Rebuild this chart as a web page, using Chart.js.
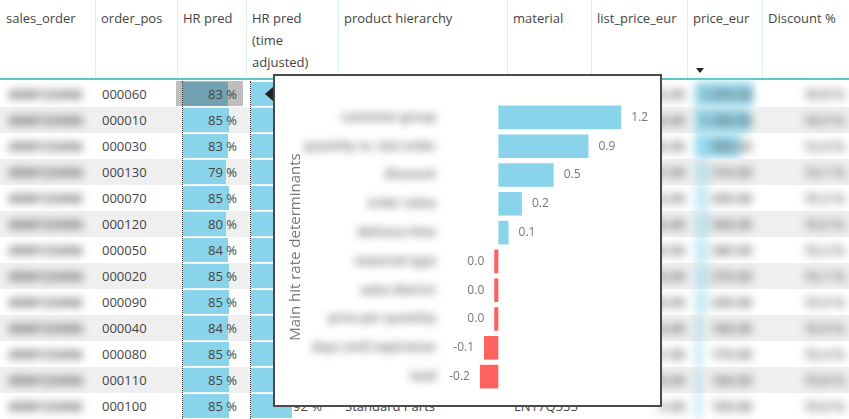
<!DOCTYPE html>
<html>
<head>
<meta charset="utf-8">
<script src="https://cdn.jsdelivr.net/npm/chart.js@4.4.1/dist/chart.umd.min.js"></script>
<style>
  body { margin: 0; width: 849px; height: 419px; overflow: hidden; background: #fff;
         font-family: "Open Sans", sans-serif; font-size: 13px; color: #444; position: relative; }
  .abs { position: absolute; box-sizing: border-box; white-space: nowrap; }
  .blur { filter: blur(4px); color: #555; font-weight: bold; }
  .blur2 { filter: blur(5px); color: #666; font-weight: bold; }
  #tip { position: absolute; left: 273px; top: 74px; width: 389px; height: 333px;
         border: 2px solid #4a4a4a; background: #fff; box-sizing: border-box; }
  #pointer { position: absolute; left: 265px; top: 87px; width: 0; height: 0;
             border-top: 7px solid transparent; border-bottom: 7px solid transparent;
             border-right: 8px solid #222; }
</style>
</head>
<body>
<div id="table"></div>
<div id="tip"><canvas id="hitRateChart" width="385" height="329"></canvas></div>
<div id="pointer"></div>
<script>
// tooltip chart data
const determinants = ['customer group', 'quantity vs. last order', 'discount', 'order value',
  'delivery time', 'material type', 'sales district', 'price per quantity',
  'days until expiration', 'lead'];
const impact = [1.2, 0.88, 0.54, 0.23, 0.1, -0.04, -0.04, -0.04, -0.14, -0.18];

// table data
const colTitles = ['sales_order', 'order_pos', 'HR pred', 'HR pred<br>(time<br>adjusted)',
  'product hierarchy', 'material', 'list_price_eur', 'price_eur', 'Discount %'];
const orderPos = ['000060', '000010', '000030', '000130', '000070', '000120', '000050',
  '000020', '000090', '000040', '000080', '000110', '000100'];
const hrPred = [83, 85, 83, 79, 85, 80, 84, 85, 85, 84, 85, 85, 85];
const hrPredTime = [91, 93, 92, 90, 93, 91, 92, 93, 92, 92, 93, 93, 92];
const productHier = ['', '', '', '', '', '', '', '', '', '', '', '', 'Standard Parts'];
const material = ['', '', '', '', '', '', '', '', '', '', '', '', 'LN17Q555'];
const salesOrder = ['4500123456', '4500123456', '4500123456', '4500123456', '4500123456',
  '4500123456', '4500123456', '4500123456', '4500123456', '4500123456', '4500123456',
  '4500123456', '4500123456'];
const listPrice = ['1,402.00', '1,318.00', '1,096.00', '361.00', '342.00', '355.00', '330.00',
  '318.00', '296.00', '214.00', '201.00', '190.00', '5.40'];
const priceEur = [1250, 1180, 960, 310, 290, 300, 280, 270, 250, 180, 170, 160, 150];
const discountPct = ['10.8 %', '10.5 %', '12.4 %', '14.1 %', '15.2 %', '15.5 %', '15.2 %',
  '15.1 %', '15.5 %', '15.9 %', '15.4 %', '15.8 %', '15.6 %'];

// layout of the table behind the tooltip
const colEdges = [0, 95, 177, 246, 338, 507, 591, 687, 762, 849];
const rowTop = 81, rowH = 26;
const table = document.getElementById('table');

function box(left, top, width, height, html, style, cls) {
  const d = document.createElement('div');
  d.className = 'abs' + (cls ? ' ' + cls : '');
  Object.assign(d.style, { left: left + 'px', top: top + 'px', width: width + 'px', height: height + 'px' }, style || {});
  if (html) d.innerHTML = html;
  table.appendChild(d);
  return d;
}

// header
colTitles.forEach((t, i) => {
  box(colEdges[i] + 6, 7, colEdges[i + 1] - colEdges[i] - 6, 70, t, { lineHeight: '22px', whiteSpace: 'normal' });
  if (i > 0) box(colEdges[i], 0, 1, 78, '', { background: '#d6f1ef' });
});
box(0, 78, 849, 2, '', { background: '#5cc8c2' });
box(696, 68, 0, 0, '', { borderLeft: '4px solid transparent', borderRight: '4px solid transparent', borderTop: '5px solid #222' });

// rows
orderPos.forEach((pos, i) => {
  const top = rowTop + i * rowH;
  if (i % 2 === 1) box(0, top, 849, rowH, '', { background: '#efefef' });
  box(8, top, 80, rowH, salesOrder[i], { lineHeight: rowH + 'px' }, 'blur');
  box(102, top, 70, rowH, pos, { lineHeight: rowH + 'px' });
  box(183, top + 1, hrPred[i] / 100 * 54, rowH - 2, '', { background: '#8AD4EB' });
  box(183, top, 54, rowH, hrPred[i] + ' %', { lineHeight: rowH + 'px', textAlign: 'right' });
  box(251, top + 1, hrPredTime[i] / 100 * 45, rowH - 2, '', { background: '#8AD4EB' });
  box(251, top, 71, rowH, hrPredTime[i] + ' %', { lineHeight: rowH + 'px', textAlign: 'right' });
  box(345, top, 160, rowH, productHier[i], { lineHeight: rowH + 'px' });
  box(514, top, 75, rowH, material[i], { lineHeight: rowH + 'px' });
  box(600, top, 85, rowH, listPrice[i], { lineHeight: rowH + 'px', textAlign: 'right' }, 'blur2');
  box(695, top + 1, priceEur[i] / 1250 * 58, rowH - 2, '', { background: '#8AD4EB', filter: 'blur(4px)', opacity: i < 3 ? 0.9 : 0.5 });
  box(690, top, 62, rowH, priceEur[i].toLocaleString('en-US') + '.00', { lineHeight: rowH + 'px', textAlign: 'right' }, 'blur2');
  box(770, top, 75, rowH, discountPct[i], { lineHeight: rowH + 'px', textAlign: 'right' }, 'blur2');
});
// selected cell highlight and dotted column outline
box(176, rowTop, 67, rowH - 1, '', { background: 'rgba(70,70,70,0.35)' });
box(182, rowTop, 1, 419 - rowTop, '', { borderLeft: '1px dotted #333' });
box(250, rowTop, 1, 419 - rowTop, '', { borderLeft: '1px dotted #333' });

// tooltip chart
Chart.defaults.font.family = '"Open Sans", sans-serif';

const blurLabels = {
  id: 'blurLabels',
  afterDraw(chart) {
    const ctx = chart.ctx;
    const y = chart.scales.y;
    ctx.save();
    ctx.filter = 'blur(4px)';
    ctx.fillStyle = '#777';
    ctx.font = 'bold 12px "Open Sans"';
    ctx.textAlign = 'right';
    ctx.textBaseline = 'middle';
    chart.data.labels.forEach((l, i) => ctx.fillText(l, y.right - 6, y.getPixelForTick(i)));
    ctx.restore();
  }
};

const valueLabels = {
  id: 'valueLabels',
  afterDatasetsDraw(chart) {
    const ctx = chart.ctx;
    const meta = chart.getDatasetMeta(0);
    ctx.save();
    ctx.font = '12px "Open Sans"';
    ctx.fillStyle = '#777';
    ctx.textBaseline = 'middle';
    meta.data.forEach((bar, i) => {
      const v = impact[i];
      const txt = Math.abs(v) < 0.05 ? '0.0' : v.toFixed(1);
      if (v >= 0) {
        ctx.textAlign = 'left';
        ctx.fillText(txt, bar.x + 10, bar.y);
      } else {
        ctx.textAlign = 'right';
        ctx.fillText(txt, bar.x - 10, bar.y);
      }
    });
    ctx.restore();
  }
};

const ctx = document.getElementById('hitRateChart').getContext('2d');
new Chart(ctx, {
  type: 'bar',
  data: {
    labels: determinants,
    datasets: [{
      data: impact,
      backgroundColor: impact.map(v => v >= 0 ? '#8AD4EB' : '#FD625E'),
      borderWidth: 0,
      categoryPercentage: 1,
      barPercentage: 0.82
    }]
  },
  options: {
    indexAxis: 'y',
    responsive: false,
    animation: false,
    layout: { padding: { left: 12, right: 8, top: 27, bottom: 14 } },
    plugins: { legend: { display: false }, tooltip: { enabled: false } },
    scales: {
      x: { display: false, min: -0.55, max: 1.5 },
      y: {
        grid: { display: false },
        border: { display: false },
        ticks: { color: 'rgba(0,0,0,0)', font: { size: 12 }, padding: 6 },
        title: { display: true, text: 'Main hit rate determinants', color: '#777',
                 font: { size: 15 }, padding: { top: 0, bottom: 0 } },
        afterFit: s => { s.width = 155; }
      }
    }
  },
  plugins: [blurLabels, valueLabels]
});
</script>
</body>
</html>
